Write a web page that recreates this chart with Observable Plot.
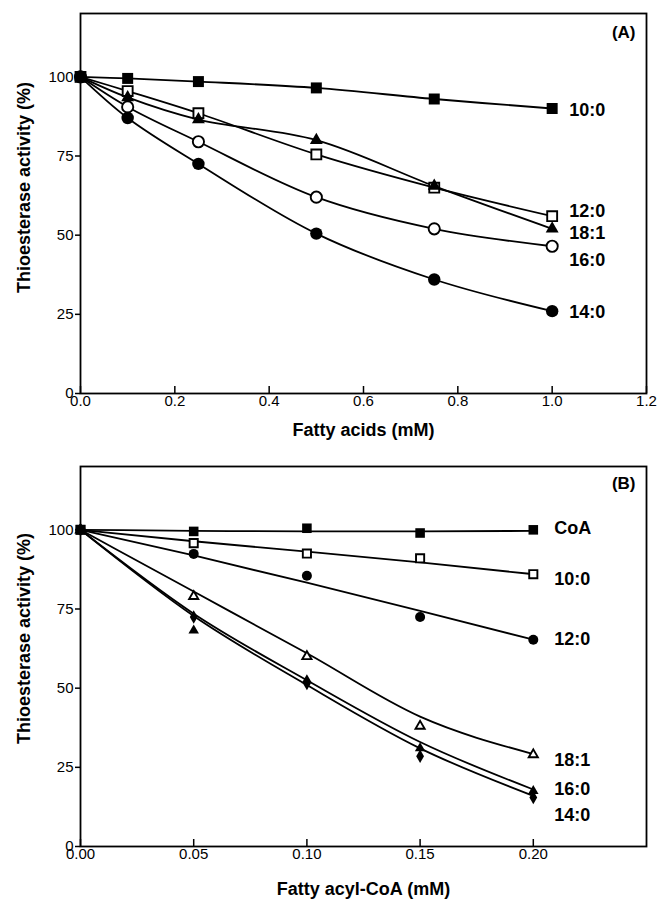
<!DOCTYPE html>
<html><head><meta charset="utf-8">
<script src="https://cdn.jsdelivr.net/npm/d3@7"></script>
<script src="https://cdn.jsdelivr.net/npm/@observablehq/plot@0.6"></script>
<style>body{margin:0;background:#fff} svg{display:block}</style>
</head><body><div id="chart"></div>
<script>
// ---------- Panel A: fatty acids ----------
const xA = [0, 0.1, 0.25, 0.5, 0.75, 1.0];
const a_10_0 = [100, 99.5, 98.5, 96.5, 93, 90];
const a_12_0 = [100, 95.5, 88.5, 75.5, 65, 56];
const a_18_1 = [100, 93.5, 86.5, 80, 65.5, 52];
const a_16_0 = [100, 90.5, 79.5, 62, 52, 46.5];
const a_14_0 = [100, 87, 72.5, 50.5, 36, 26];
const xTicksA = [0, 0.2, 0.4, 0.6, 0.8, 1.0, 1.2];

// ---------- Panel B: fatty acyl-CoA ----------
const xB = [0, 0.05, 0.10, 0.15, 0.20];
const b_CoA  = [100, 99.5, 100.5, 99, 100];
const b_10_0 = [100, 95.8, 92.5, 91, 86];
const b_12_0 = [100, 92.4, 85.5, 72.5, 65.3];
const b_18_1 = [100, 79, 60, 38, 29];
const b_16_0 = [100, 68.2, 52.5, 31, 17.5];
const b_14_0 = [100, 72.5, 51.5, 28.5, 15.5];
// fitted curves in panel B
const fit_CoA  = [100, 99.7, 99.5, 99.5, 99.7];
const fit_10_0 = [100, 96.4, 93.1, 89.7, 86];
const fit_12_0 = [100, 91.9, 83.3, 74.4, 65.3];
const fit_18_1 = [100, 80.5, 61, 41, 29.2];
const fit_16_0 = [100, 73.5, 52.5, 33, 18];
const fit_14_0 = [100, 72.8, 51, 31, 16];
const xTicksB = [0, 0.05, 0.10, 0.15, 0.20];

const yTicks = [0, 25, 50, 75, 100];

const FONT = "Liberation Sans, Arial, Helvetica, sans-serif";

function rows(xs, ys) { return ys.map((v, i) => ({x: xs[i], y: v})); }

function panel(cfg) {
  const marks = [
    Plot.frame({stroke: "black", strokeWidth: 1.8}),
    Plot.axisY({ticks: yTicks, tickSize: 5, tickPadding: 2, label: null, strokeWidth: 1.5, fontSize: 15}),
    Plot.axisX({ticks: cfg.xTicks, tickSize: -7, tickPadding: 9, tickFormat: d3.format(cfg.fmt), label: null, strokeWidth: 1.5, fontSize: 15})
  ];
  for (const s of cfg.series) {
    marks.push(Plot.line(rows(cfg.xs, s.fit || s.y), {x: "x", y: "y", curve: cfg.curve, stroke: "black", strokeWidth: 1.8}));
  }
  for (const s of cfg.series) {
    marks.push(Plot.dot(rows(cfg.xs, s.y), {
      x: "x", y: "y", symbol: s.symbol, r: s.r,
      fill: s.open ? "white" : "black",
      stroke: s.open ? "black" : "none",
      strokeWidth: s.open ? 1.9 : 0
    }));
    const last = rows(cfg.xs, s.y).slice(-1);
    marks.push(Plot.text(last, {
      x: "x", y: "y", text: () => s.name, dx: cfg.labelDx, dy: s.labelDy,
      textAnchor: "start", lineAnchor: "middle", fontWeight: "bold", fontSize: 18, fill: "black"
    }));
  }
  marks.push(Plot.text([cfg.tag], {text: d => d, frameAnchor: "top-right", dx: -11, dy: cfg.tagDy,
    textAnchor: "end", lineAnchor: "middle", fontWeight: "bold", fontSize: 17}));
  marks.push(Plot.text(["Thioesterase activity (%)"], {text: d => d, frameAnchor: "left", rotate: -90,
    dx: -56, dy: cfg.yTitleDy, textAnchor: "middle", lineAnchor: "middle", fontWeight: "bold", fontSize: 18}));
  marks.push(Plot.text([cfg.xLabel], {text: d => d, frameAnchor: "bottom", dy: cfg.xTitleDy,
    textAnchor: "middle", lineAnchor: "middle", fontWeight: "bold", fontSize: 18}));

  return Plot.plot({
    width: 660, height: 453,
    marginLeft: 80, marginRight: 14, marginTop: 13, marginBottom: 60,
    style: {fontFamily: FONT, fontSize: "15px", color: "black", background: "white", overflow: "visible"},
    x: {domain: cfg.xDomain},
    y: {domain: [0, 120]},
    marks
  });
}

const chartA = panel({
  xs: xA, xDomain: [0, 1.2], xTicks: xTicksA, fmt: ".1f", curve: "catmull-rom",
  xLabel: "Fatty acids (mM)", xTitleDy: 37, yTitleDy: -16, tag: "(A)", tagDy: 19, labelDx: 17,
  series: [
    {name: "10:0", y: a_10_0, symbol: "square", r: 6.2, open: false, labelDy: 2},
    {name: "12:0", y: a_12_0, symbol: "square", r: 5.6, open: true, labelDy: -5},
    {name: "18:1", y: a_18_1, symbol: "triangle", r: 4.8, open: false, labelDy: 4},
    {name: "16:0", y: a_16_0, symbol: "circle", r: 5.6, open: true, labelDy: 14},
    {name: "14:0", y: a_14_0, symbol: "circle", r: 6.2, open: false, labelDy: 1}
  ]
});

const chartB = panel({
  xs: xB, xDomain: [0, 0.25], xTicks: xTicksB, fmt: ".2f", curve: "monotone-x",
  xLabel: "Fatty acyl-CoA (mM)", xTitleDy: 43, yTitleDy: -18, tag: "(B)", tagDy: 17, labelDx: 21,
  series: [
    {name: "CoA", y: b_CoA, fit: fit_CoA, symbol: "square", r: 5.4, open: false, labelDy: -2},
    {name: "10:0", y: b_10_0, fit: fit_10_0, symbol: "square", r: 4.6, open: true, labelDy: 5},
    {name: "12:0", y: b_12_0, fit: fit_12_0, symbol: "circle", r: 5, open: false, labelDy: 0},
    {name: "18:1", y: b_18_1, fit: fit_18_1, symbol: "triangle", r: 3.4, open: true, labelDy: 6},
    {name: "16:0", y: b_16_0, fit: fit_16_0, symbol: "triangle", r: 3.9, open: false, labelDy: -2},
    {name: "14:0", y: b_14_0, fit: fit_14_0, symbol: "diamond", r: 4.1, open: false, labelDy: 18}
  ]
});

const root = document.getElementById("chart");
root.appendChild(chartA);
root.appendChild(chartB);
</script>
</body></html>
